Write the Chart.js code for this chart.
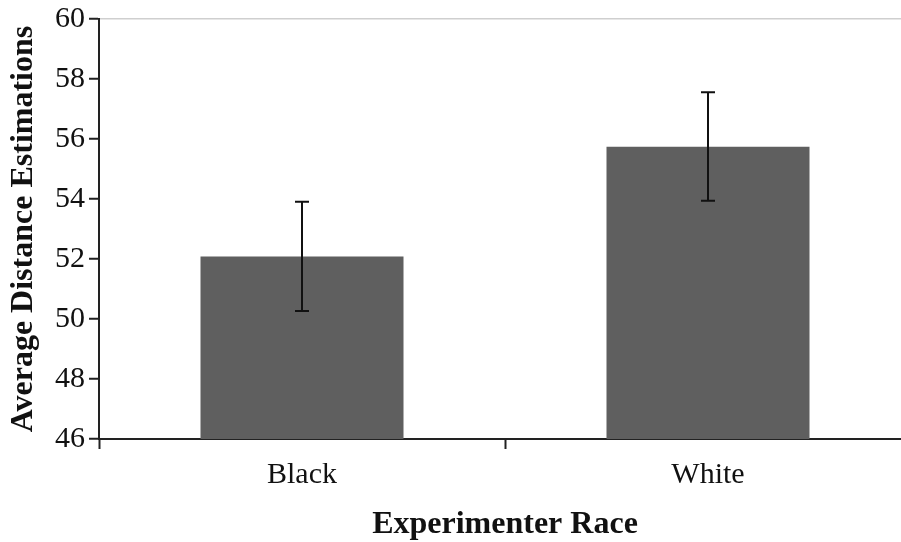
<!DOCTYPE html>
<html>
<head>
<meta charset="utf-8">
<script src="https://cdn.jsdelivr.net/npm/chart.js@4.4.1/dist/chart.umd.min.js"></script>
<style>
  html, body { margin: 0; padding: 0; background: #fff; overflow: hidden; }
  #wrap { width: 911px; height: 542px; }
</style>
</head>
<body>
<div id="wrap"><canvas id="chart"></canvas></div>
<script>
// Mean distance estimates by experimenter race, with error bar ends
const categories = ['Black', 'White'];
const meanEstimates = [52.08, 55.74];
const errorLower = [50.27, 53.94];
const errorUpper = [53.91, 57.56];
const yTicks = [46, 48, 50, 52, 54, 56, 58, 60];

const serif = '"Liberation Serif", "Times New Roman", serif';

// Draws vertical error bars with end caps over each bar
const errorBars = {
  id: 'errorBars',
  afterDatasetsDraw(chart) {
    const ctx = chart.ctx;
    const x = chart.scales.x, y = chart.scales.y;
    ctx.save();
    ctx.strokeStyle = '#111';
    ctx.lineWidth = 2;
    categories.forEach((c, i) => {
      const cx = x.getPixelForValue(i);
      const yLo = y.getPixelForValue(errorLower[i]);
      const yHi = y.getPixelForValue(errorUpper[i]);
      const cap = 7;
      ctx.beginPath();
      ctx.moveTo(cx, yLo); ctx.lineTo(cx, yHi);
      ctx.moveTo(cx - cap, yHi); ctx.lineTo(cx + cap, yHi);
      ctx.moveTo(cx - cap, yLo); ctx.lineTo(cx + cap, yLo);
      ctx.stroke();
    });
    ctx.restore();
  }
};

new Chart(document.getElementById('chart'), {
  type: 'bar',
  data: {
    labels: categories,
    datasets: [{
      data: meanEstimates,
      backgroundColor: '#5f5f5f',
      borderWidth: 0,
      categoryPercentage: 1.0,
      barPercentage: 0.5
    }]
  },
  options: {
    responsive: true,
    maintainAspectRatio: false,
    animation: false,
    layout: { padding: { top: 16, left: 0, right: 0, bottom: 0 } },
    plugins: { legend: { display: false }, tooltip: { enabled: false } },
    scales: {
      x: {
        grid: {
          offset: true,
          drawOnChartArea: false,
          tickLength: 10,
          tickColor: '#222',
          tickWidth: 2
        },
        border: { color: '#222', width: 2 },
        ticks: {
          color: '#111',
          padding: 11,
          font: { family: serif, size: 30, lineHeight: 1 }
        },
        title: {
          display: true,
          text: 'Experimenter Race',
          color: '#111',
          font: { family: serif, size: 32, weight: 'bold', lineHeight: 1.1 },
          padding: { top: 0, bottom: 0 }
        },
        afterFit(scale) { scale.height = 103; }
      },
      y: {
        min: 46,
        max: 60,
        afterBuildTicks(scale) { scale.ticks = yTicks.map(v => ({ value: v })); },
        grid: {
          drawOnChartArea: true,
          color: ctx => (ctx.tick && ctx.tick.value === 60 ? '#cfcfcf' : 'rgba(0,0,0,0)'),
          lineWidth: 1.5,
          tickLength: 10,
          tickColor: '#222',
          tickWidth: 2
        },
        border: { color: '#222', width: 2 },
        ticks: {
          color: '#111',
          padding: 4,
          font: { family: serif, size: 30, lineHeight: 1 }
        },
        title: {
          display: true,
          text: 'Average Distance Estimations',
          color: '#111',
          font: { family: serif, size: 32, weight: 'bold', lineHeight: 1.1 },
          padding: { top: 6, bottom: 0 }
        },
        afterFit(scale) { scale.width = 99; }
      }
    }
  },
  plugins: [errorBars]
});
</script>
</body>
</html>
